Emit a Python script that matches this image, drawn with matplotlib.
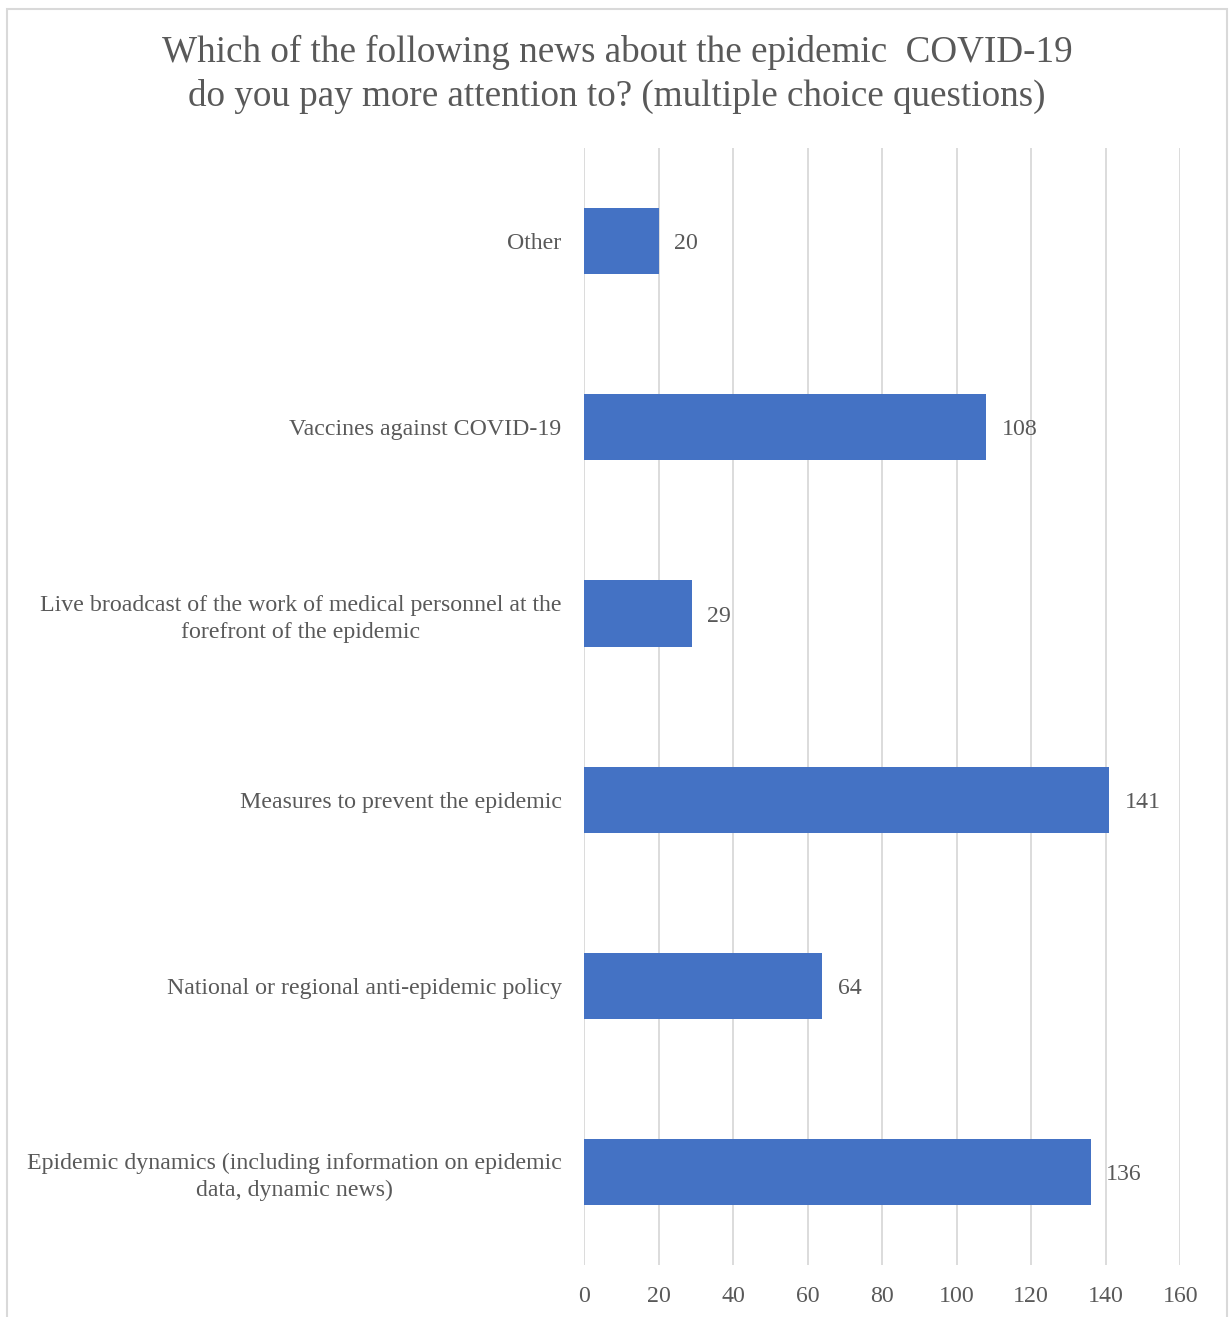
import matplotlib.pyplot as plt
from matplotlib.patches import Rectangle

plt.rcParams['font.family'] = ['Liberation Serif', 'DejaVu Serif']

categories = [
    "Epidemic dynamics (including information on epidemic\ndata, dynamic news)",
    "National or regional anti-epidemic policy",
    "Measures to prevent the epidemic",
    "Live broadcast of the work of medical personnel at the\nforefront of the epidemic",
    "Vaccines against COVID-19",
    "Other",
]
counts = [136, 64, 141, 29, 108, 20]
xticks = [0, 20, 40, 60, 80, 100, 120, 140, 160]

text_col = "#595959"
bar_col = "#4472C4"
grid_col = "#D9D9D9"

fig = plt.figure(figsize=(12.32, 13.17), dpi=100)
ax = fig.add_axes([0.474, 0.0395, 0.484, 0.848])

ypos = range(len(categories))
bars = ax.barh(ypos, counts, height=0.355, color=bar_col, zorder=3)

ax.set_xlim(0, 160)
ax.set_ylim(-0.5, len(categories) - 0.5)
ax.set_xticks(xticks)
ax.set_yticks(list(ypos))
ax.set_yticklabels(categories, multialignment="center", linespacing=1.35)
ax.tick_params(axis="both", length=0, labelsize=17.2, labelcolor=text_col)
ax.tick_params(axis="y", pad=16)
ax.tick_params(axis="x", pad=15)
ax.grid(axis="x", color=grid_col, linewidth=1.3, zorder=0)
for s in ax.spines.values():
    s.set_visible(False)

for b, v in zip(bars, counts):
    ax.annotate(str(v), (b.get_width(), b.get_y() + b.get_height() / 2),
                xytext=(11, 0), textcoords="offset points",
                ha="left", va="center_baseline", fontsize=17.2, color=text_col)

fig.text(0.501, 0.9434, "Which of the following news about the epidemic  COVID-19\ndo you pay more attention to? (multiple choice questions)",
         ha="center", va="center", fontsize=26.75, color=text_col, linespacing=1.33)

fig.patches.append(Rectangle((7 / 1232, -0.01), 1220 / 1232, 1 - 9 / 1317 + 0.01,
                             transform=fig.transFigure, fill=False,
                             edgecolor=grid_col, linewidth=1.5))

fig.savefig("out.png", dpi=100, facecolor="white")
